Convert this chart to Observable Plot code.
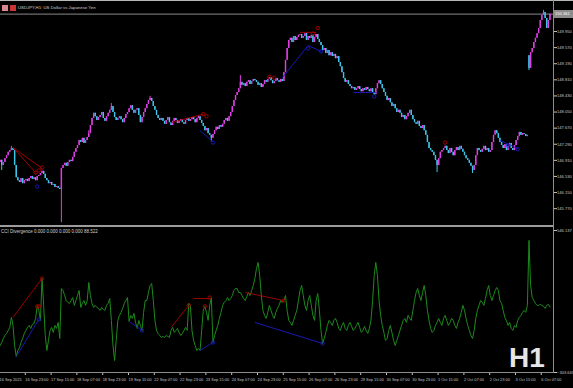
<!DOCTYPE html>
<html><head><meta charset="utf-8">
<script src="https://cdn.jsdelivr.net/npm/d3@7"></script>
<script src="https://cdn.jsdelivr.net/npm/@observablehq/plot@0.6"></script>
<style>
html,body{margin:0;padding:0;background:#000;}
#wrap{position:relative;width:573px;height:388px;background:#000;overflow:hidden;font-family:"Liberation Sans",Arial,sans-serif;}
.abs{position:absolute;}
#wrap figure, #wrap svg{margin:0;}
</style></head><body><div id="wrap"></div>
<script>
// ---------- data ----------
const closes = [
146.91,146.79,146.86,
146.95,147.02,147.10,147.14,147.19,
147.14,146.79,146.50,
146.43,146.39,146.48,146.36,146.43,146.46,146.41,
146.48,146.53,146.46,146.50,146.43,146.53,146.55,
146.60,146.65,146.58,
146.48,146.43,146.36,146.39,146.32,146.34,146.27,146.29,146.25,
146.22,
146.72,
146.79,146.84,146.77,146.86,146.91,
146.88,146.98,147.10,147.19,
147.26,147.38,147.33,147.43,147.31,
147.38,147.45,147.54,
147.73,147.90,148.02,147.94,147.85,147.92,
147.97,148.04,147.90,147.83,147.94,148.02,
148.09,148.18,148.04,147.92,
147.85,147.90,147.94,147.87,147.80,147.90,147.99,148.04,
148.13,148.20,148.09,148.02,148.09,148.13,
147.97,147.80,147.92,148.04,
148.13,148.23,148.32,148.37,148.30,
148.18,148.09,147.97,147.90,147.85,
147.90,147.83,147.76,147.85,147.92,147.80,147.73,147.83,147.90,147.85,
147.78,147.83,147.87,147.80,147.76,147.85,147.90,147.83,147.87,147.92,
147.87,147.80,147.90,147.94,147.85,147.78,
147.71,147.61,147.66,147.54,147.50,147.43,147.52,
147.61,147.69,147.64,147.73,147.69,
147.76,147.85,147.90,147.83,147.94,
148.04,148.18,148.32,148.44,148.51,
148.60,148.75,148.68,148.72,
148.65,148.75,148.79,148.70,148.77,148.82,
148.79,148.75,148.68,148.72,148.63,148.70,148.79,
148.75,148.82,148.86,148.79,148.72,148.77,148.84,
148.79,148.75,148.82,148.77,
148.98,149.27,149.55,149.74,
149.79,149.69,149.83,149.74,149.81,149.86,
149.88,149.79,149.83,149.90,149.74,149.83,
149.79,149.86,149.69,149.81,149.88,149.76,
149.69,149.62,149.50,149.55,
149.43,149.50,149.38,149.45,149.36,149.41,
149.31,149.36,149.22,149.12,148.98,148.84,
148.75,148.79,148.70,148.65,148.60,148.63,
148.56,148.60,148.65,148.58,148.53,148.60,148.56,148.63,
148.58,148.53,148.60,148.51,148.46,
148.60,148.72,148.79,148.70,
148.60,148.51,148.42,148.32,148.37,
148.27,148.18,148.23,148.13,148.04,148.09,
148.02,147.92,147.97,147.87,147.94,148.02,
148.09,147.97,147.87,147.80,
147.76,147.83,147.71,147.66,147.73,
147.61,147.50,147.33,147.19,147.14,
147.10,147.02,146.91,146.79,
146.95,147.10,147.14,147.19,147.24,147.14,
147.07,147.19,147.10,147.02,147.14,147.21,
147.14,147.24,147.17,147.10,147.02,146.95,
146.91,146.84,146.77,146.67,146.79,
147.02,147.19,147.14,147.10,147.17,
147.24,147.14,147.19,147.10,147.14,
147.33,147.50,147.61,147.54,147.43,
147.33,147.26,147.19,147.28,147.14,
147.24,147.31,147.19,147.14,147.26,
147.38,147.47,147.57,147.50,147.54,
147.52,147.47,147.50,
149.08,
149.45,
149.55,149.69,149.79,149.90,150.02,
150.21,150.33,150.40,
150.26,150.02,
150.21,150.36
];
const firstOpen = 146.86;
const gapBar = 329, gapOpen = 149.38;
const wickBars   = [2, 8, 39, 56, 70, 94, 132, 150, 272, 294, 329, 338];
const wickPrices = [146.67, 147.24, 145.44, 147.61, 148.25, 148.42, 147.35, 148.91, 146.62, 146.60, 149.03, 150.45];
const bidPrice = 150.361;

const cci = [
-142,-124,-100,-82,-70,-52,-34,26,-22,-142,
-208,-172,-154,-124,-100,-70,-52,-34,-22,-40,
-16,-10,20,92,68,8,259,98,-82,-172,
-112,-52,-34,-64,-22,-40,-4,-100,199,187,
157,127,116,110,127,145,98,127,157,187,
86,110,127,98,127,235,157,110,86,98,
86,80,68,86,74,68,98,110,139,8,
-142,-232,-112,8,38,56,80,110,127,145,
2,38,20,50,-4,-40,8,-22,-52,56,
127,127,175,217,229,127,8,-52,-70,-82,
-94,-88,-94,-82,-88,-94,-52,-34,-64,-52,
-40,-64,-82,-70,-52,-34,-52,110,98,-52,
-112,-142,-172,-160,-172,-52,68,92,56,8,
98,145,-124,-82,-52,-22,20,56,98,116,
127,145,127,139,157,187,199,199,175,175,
157,139,127,151,175,157,187,217,259,319,
355,277,157,68,38,20,56,98,68,38,
20,56,80,98,127,116,127,157,68,8,
-4,-22,8,38,68,127,187,217,157,98,
68,127,157,98,38,8,127,169,68,-52,
-130,-100,-64,-22,8,-4,-22,8,20,-4,
-40,-52,-22,-4,-40,-52,-22,-4,-28,-52,
-40,-22,-4,-34,-64,-52,-28,-52,-70,-40,
8,127,277,355,277,127,38,-22,-64,-112,
-100,-52,-22,-64,-112,-142,-112,-82,-52,-22,
8,20,-4,38,20,8,68,127,175,199,
157,127,175,217,157,68,8,-40,-64,-52,
-22,-4,20,-4,-22,20,38,8,-22,-4,
20,8,-22,-40,-4,20,56,98,68,20,
-22,-52,-82,-100,-52,20,68,98,127,116,
98,139,187,217,157,127,157,187,205,187,
127,110,68,26,8,-22,-4,-40,-52,-22,
-34,8,26,38,56,68,56,98,487,217,
145,127,110,98,98,104,98,92,80,98,
104,88.522
];
const cciMax = 546.137, cciMin = -303.669;

const priceTicks = [149.950,149.570,149.190,148.810,148.430,148.050,147.670,147.290,146.910,146.530,146.150,145.770];
const timeIdx = d3.range(0, 337, 16);
const timeLabels = ["16 Sep 2025","16 Sep 23:00","17 Sep 15:00","18 Sep 07:00","18 Sep 23:00","19 Sep 15:00","22 Sep 07:00","22 Sep 23:00","23 Sep 15:00","24 Sep 07:00","24 Sep 23:00","25 Sep 15:00","26 Sep 07:00","26 Sep 23:00","29 Sep 15:00","30 Sep 07:00","30 Sep 23:00","1 Oct 15:00","2 Oct 07:00","2 Oct 23:00","3 Oct 15:00","6 Oct 07:00"];

// divergence lines in price pane (bar index, price)
const pDivColor = ["r","r","r","b","b","b","r","b","b"];
const pDivI1 = [9, 9, 107, 125, 176, 192, 187, 220, 311];
const pDivV1 = [147.21,147.21,147.80,147.61,148.86,149.62,149.93,148.51,147.38];
const pDivI2 = [23, 27, 127, 133, 192, 200, 197, 234, 322];
const pDivV2 = [146.62,146.72,148.00,147.35,149.62,149.48,149.93,148.51,147.19];
const pMarkColor = ["r","r","r","r","r","r","r","r","r","r","b","b","b","b","b","b","b"];
const pMarkI = [23,25,27,127,129,168,171,195,198,277, 24,133,192,200,233,316,322];
const pMarkV = [146.62,146.67,146.74,148.00,147.95,148.88,148.86,149.90,150.03,147.33, 146.29,147.33,149.55,149.48,148.42,147.26,147.17];
// divergence lines in CCI pane (bar index, CCI)
const cDivColor = ["r","b","b","r","r","b","r","b"];
const cDivI1 = [9, 11, 81, 107, 121, 125, 153, 159];
const cDivV1 = [26, -208, 2, -34, 139, -172, 175, -4];
const cDivI2 = [27, 25, 89, 118, 131, 133, 177, 201];
const cDivV2 = [259, 14, -52, 98, 139, -124, 127, -130];
const cMarkColor = ["r","r","r","r","r","r","r","b","b","b","b"];
const cMarkI = [24,25,27,118,128,131,177, 25,89,133,201];
const cMarkV = [92,92,259,98,92,145,127, 14,-52,-124,-130];

// ---------- build ----------
const UP = "#e13fe6", DN = "#3cc6ea", RED = "#b00000", BLUE = "#1c1cc8", GREEN = "#1d8a1d";
const colorOf = c => c === "r" ? RED : BLUE;
const FONT = '"Liberation Sans",Arial,sans-serif';
const bars = closes.map((c, k) => {
  const i = k + 1;
  const o = i === gapBar ? gapOpen : (k === 0 ? firstOpen : closes[k - 1]);
  let hi = Math.max(o, c), lo = Math.min(o, c);
  const w = wickBars.indexOf(i);
  if (w >= 0) { hi = Math.max(hi, wickPrices[w]); lo = Math.min(lo, wickPrices[w]); }
  return {i, o, c, hi, lo, up: c >= o};
});
const seg = (col, a, b, c2, d) => col.map((c, k) => ({c, i1: a[k], v1: b[k], i2: c2[k], v2: d[k]}));
const pDiv = seg(pDivColor, pDivI1, pDivV1, pDivI2, pDivV2);
const cDiv = seg(cDivColor, cDivI1, cDivV1, cDivI2, cDivV2);
const pMarks = pMarkColor.map((c, k) => ({c, i: pMarkI[k], v: pMarkV[k]}));
const cMarks = cMarkColor.map((c, k) => ({c, i: cMarkI[k], v: cMarkV[k]}));
const cciData = cci.map((v, k) => ({i: k + 1, v}));

const xDomain = [1.24, 344.2];
const common = {width: 573, marginLeft: 0, marginRight: 20,
  style: {background: "transparent", color: "#c4c4c4", overflow: "visible", fontFamily: FONT}};

const p1 = Plot.plot({
  ...common, height: 226, marginTop: 0, marginBottom: 0,
  x: {domain: xDomain, axis: null},
  y: {domain: [145.349, 150.682], axis: null},
  marks: [
    Plot.ruleY([bidPrice], {stroke: "#8a8a8a", strokeWidth: 1}),
    Plot.ruleX(bars, {x: "i", y1: "lo", y2: "hi", stroke: d => d.up ? UP : DN, strokeWidth: 1}),
    Plot.ruleX(bars, {x: "i", y1: "o", y2: "c", stroke: d => d.up ? UP : DN, strokeWidth: 1.4}),
    Plot.link(pDiv, {x1: "i1", y1: "v1", x2: "i2", y2: "v2", stroke: d => colorOf(d.c), strokeWidth: 0.9}),
    Plot.dot(pMarks, {x: "i", y: "v", r: 1.7, stroke: d => colorOf(d.c), strokeWidth: 0.9, fill: "none"}),
    Plot.axisY({anchor: "right", ticks: priceTicks, tickFormat: d3.format(".3f"), tickSize: 3, tickPadding: 0.5, fontSize: 4.1})
  ]
});
const p2 = Plot.plot({
  ...common, height: 162, marginTop: 4, marginBottom: 16,
  x: {domain: xDomain, axis: null},
  y: {domain: [cciMin, cciMax], axis: null},
  marks: [
    Plot.lineY(cciData, {x: "i", y: "v", stroke: GREEN, strokeWidth: 1}),
    Plot.link(cDiv, {x1: "i1", y1: "v1", x2: "i2", y2: "v2", stroke: d => colorOf(d.c), strokeWidth: 0.9}),
    Plot.dot(cMarks, {x: "i", y: "v", r: 1.7, stroke: d => colorOf(d.c), strokeWidth: 0.9, fill: "none"}),
    Plot.axisY({anchor: "right", ticks: [cciMax, cciMin], tickFormat: d3.format(".3f"), tickSize: 3, tickPadding: 0.5, fontSize: 4.1}),
    Plot.axisX({anchor: "bottom", ticks: timeIdx, tickFormat: d => timeLabels[timeIdx.indexOf(d)], tickSize: 3, tickPadding: 3, textAnchor: "start", dx: 1, fontSize: 3.9})
  ]
});

const wrap = document.getElementById("wrap");
function place(el, css) { el.classList.add("abs"); Object.assign(el.style, css); wrap.appendChild(el); return el; }
place(p1, {left: "0px", top: "0px"});
place(p2, {left: "0px", top: "226px"});
function box(css) { return place(document.createElement("div"), css); }
// frame lines
box({left: "0px", top: "0px", width: "573px", height: "1px", background: "#b8b8b8"});
box({left: "0px", top: "225px", width: "554px", height: "2px", background: "#9c9c9c"});
box({left: "553px", top: "0px", width: "1px", height: "373px", background: "#8c8c8c"});
box({left: "0px", top: "372px", width: "554px", height: "1px", background: "#8c8c8c"});
// bid label
const by = p1.scale("y").apply(bidPrice);
const bl = box({left: "554px", top: (by - 4) + "px", width: "18px", height: "8px", background: "#8c8c8c", color: "#fff", fontSize: "4.1px", lineHeight: "8px", paddingLeft: "1px"});
bl.textContent = d3.format(".3f")(bidPrice);
// title with icons
box({left: "2px", top: "5px", width: "6px", height: "6px", background: "#d88"});
box({left: "10px", top: "5px", width: "6px", height: "6px", background: "#c33"});
const t = box({left: "18px", top: "5px", fontSize: "4.3px", lineHeight: "6px", color: "#d0d0d0", whiteSpace: "nowrap"});
t.textContent = "USDJPY,H1: US Dollar vs Japanese Yen";
const ct = box({left: "1px", top: "229px", fontSize: "4.5px", lineHeight: "6px", color: "#d0d0d0", whiteSpace: "nowrap"});
ct.textContent = "CCI Divergence 0.000 0.000 0.000 0.000 " + cci[cci.length - 1].toFixed(3);
const h1 = box({left: "509px", top: "344px", fontSize: "28px", lineHeight: "28px", fontWeight: "bold", color: "#e6e6e6", fontFamily: '"Liberation Sans",Arial,sans-serif'});
h1.textContent = "H1";
</script></body></html>
